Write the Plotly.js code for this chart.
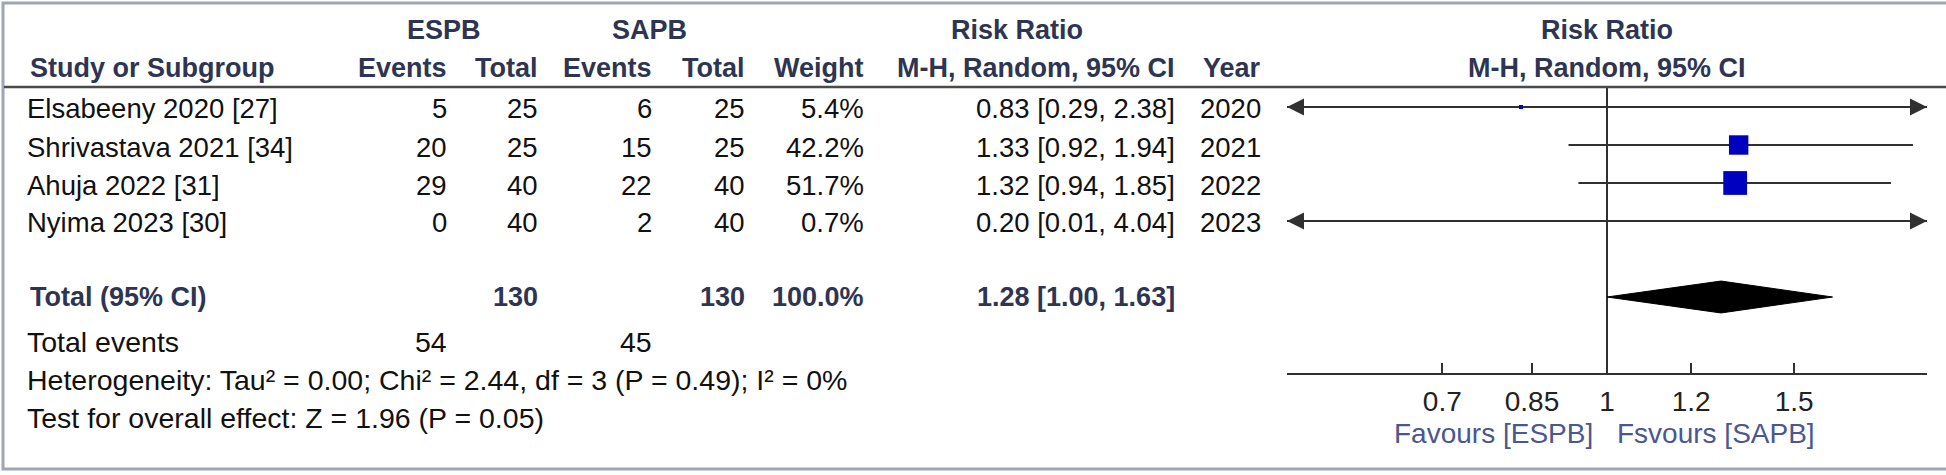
<!DOCTYPE html>
<html>
<head>
<meta charset="utf-8">
<script src="https://cdn.plot.ly/plotly-3.0.1.min.js"></script>
<style>html,body{margin:0;padding:0;background:#fff;overflow:hidden}#chart{width:1946px;height:475px}</style>
</head>
<body>
<div id="chart"></div>
<script>
// ---------- data ----------
const studies      = ["Elsabeeny 2020 [27]", "Shrivastava 2021 [34]", "Ahuja 2022 [31]", "Nyima 2023 [30]"];
const espbEvents   = [5, 20, 29, 0];
const espbTotal    = [25, 25, 40, 40];
const sapbEvents   = [6, 15, 22, 2];
const sapbTotal    = [25, 25, 40, 40];
const weights      = [5.4, 42.2, 51.7, 0.7];
const riskRatio    = [0.83, 1.33, 1.32, 0.20];
const ciLower      = [0.29, 0.92, 0.94, 0.01];
const ciUpper      = [2.38, 1.94, 1.85, 4.04];
const years        = [2020, 2021, 2022, 2023];

const totalLabel       = "Total (95% CI)";
const totalEspb        = 130;
const totalSapb        = 130;
const totalWeight      = 100.0;
const totalRR          = 1.28;
const totalLower       = 1.00;
const totalUpper       = 1.63;
const totalEventsEspb  = 54;
const totalEventsSapb  = 45;
const heterogeneityTxt = "Heterogeneity: Tau\u00b2 = 0.00; Chi\u00b2 = 2.44, df = 3 (P = 0.49); I\u00b2 = 0%";
const overallEffectTxt = "Test for overall effect: Z = 1.96 (P = 0.05)";

const groupLabels  = ["ESPB", "SAPB"];
const colHeaders   = ["Study or Subgroup", "Events", "Total", "Events", "Total", "Weight", "M-H, Random, 95% CI", "Year"];
const effectTitle  = "Risk Ratio";
const tickValues   = [0.7, 0.85, 1, 1.2, 1.5];
const tickLabels   = ["0.7", "0.85", "1", "1.2", "1.5"];
const axisRange    = [0.5, 2];
const nullValue    = 1;
const favoursLeft  = "Favours [ESPB]";
const favoursRight = "Fsvours [SAPB]";

// ---------- layout helpers (pixel -> paper) ----------
const W = 1946, H = 475;
const px = v => v / W;
const py = v => 1 - v / H;
const FONT = "Liberation Sans, Arial, sans-serif";
const FS = 27.5;
const FS_FOOT = 28.5;
const HEAD_COL = "#2d3552";
const TXT_COL = "#111111";
const FAV_COL = "#4a5790";

// row geometry
const ROW0 = 107, ROWH = 38;
const rowY = i => ROW0 + ROWH * i;
const TOTAL_ROW = 5;
const AXIS_Y = 373, HEADER_LINE_Y = 87;
const yTop = (HEADER_LINE_Y - ROW0) / ROWH;
const yBot = (AXIS_Y - ROW0) / ROWH;

// column anchors (px)
const C = { name: 27, e1: 447, t1: 538, e2: 652, t2: 745, w: 864, ci: 1175, yr: 1261 };

const ann = [];
function txt(text, x, y, anchor, opts) {
  opts = opts || {};
  ann.push({
    xref: "paper", yref: "paper", x: px(x), y: py(y), text: text,
    xanchor: anchor, yanchor: "middle", showarrow: false,
    borderpad: 0, borderwidth: 0,
    font: { family: FONT, size: opts.size || FS, color: opts.color || TXT_COL, weight: opts.bold ? "bold" : "normal" }
  });
}
const b = s => "<b>" + s + "</b>";
const HB = { color: HEAD_COL, size: 27 };

// header row 1
txt(b(groupLabels[0]), (C.e1 - 98 + C.t1) / 2, 30, "center", HB);
txt(b(groupLabels[1]), (C.e2 - 98 + C.t2) / 2, 30, "center", HB);
txt(b(effectTitle), 1017, 30, "center", HB);
txt(b(effectTitle), 1607, 30, "center", HB);
// header row 2
txt(b(colHeaders[0]), C.name + 3, 68, "left", HB);
txt(b(colHeaders[1]), C.e1, 68, "right", HB);
txt(b(colHeaders[2]), C.t1, 68, "right", HB);
txt(b(colHeaders[3]), C.e2, 68, "right", HB);
txt(b(colHeaders[4]), C.t2, 68, "right", HB);
txt(b(colHeaders[5]), C.w, 68, "right", HB);
txt(b(colHeaders[6]), C.ci, 68, "right", HB);
txt(b(colHeaders[7]), C.yr, 68, "right", HB);
txt(b(colHeaders[6]), 1607, 68, "center", HB);

// study rows
studies.forEach((s, i) => {
  const y = rowY(i) + 2;
  txt(s, C.name, y, "left");
  txt(String(espbEvents[i]), C.e1, y, "right");
  txt(String(espbTotal[i]), C.t1, y, "right");
  txt(String(sapbEvents[i]), C.e2, y, "right");
  txt(String(sapbTotal[i]), C.t2, y, "right");
  txt(weights[i].toFixed(1) + "%", C.w, y, "right");
  txt(riskRatio[i].toFixed(2) + " [" + ciLower[i].toFixed(2) + ", " + ciUpper[i].toFixed(2) + "]", C.ci, y, "right");
  txt(String(years[i]), C.yr, y, "right");
});

// total row
const yT = rowY(TOTAL_ROW);
txt(b(totalLabel), C.name + 3, yT, "left", HB);
txt(b(String(totalEspb)), C.t1, yT, "right", HB);
txt(b(String(totalSapb)), C.t2, yT, "right", HB);
txt(b(totalWeight.toFixed(1) + "%"), C.w, yT, "right", HB);
txt(b(totalRR.toFixed(2) + " [" + totalLower.toFixed(2) + ", " + totalUpper.toFixed(2) + "]"), C.ci, yT, "right", HB);
txt("Total events", C.name, 342, "left", { size: FS_FOOT });
txt(String(totalEventsEspb), C.e1, 342, "right", { size: FS_FOOT });
txt(String(totalEventsSapb), C.e2, 342, "right", { size: FS_FOOT });
txt(heterogeneityTxt, C.name, 380, "left", { size: FS_FOOT });
txt(overallEffectTxt, C.name, 418, "left", { size: FS_FOOT });

// favours labels
txt(favoursLeft, 1593, 433, "right", { color: FAV_COL, size: 28 });
txt(favoursRight, 1617, 433, "left", { color: FAV_COL, size: 28 });

// ---------- traces ----------
const lo = axisRange[0], hi = axisRange[1];
const traces = [];
const LINE_COL = "#303030";

// null line
traces.push({ x: [nullValue, nullValue], y: [yTop, yBot], mode: "lines", line: { color: LINE_COL, width: 2 }, hoverinfo: "skip", cliponaxis: false });

// CI lines + arrows
studies.forEach((s, i) => {
  const a = Math.max(ciLower[i], lo), z = Math.min(ciUpper[i], hi);
  traces.push({ x: [a, z], y: [i, i], mode: "lines", line: { color: LINE_COL, width: 2.2 }, hoverinfo: "skip" });
  const ax = [], ay = [], sy = [];
  if (ciLower[i] < lo) { ax.push(lo); ay.push(i); sy.push("arrow-left"); }
  if (ciUpper[i] > hi) { ax.push(hi); ay.push(i); sy.push("arrow-right"); }
  if (ax.length) traces.push({ x: ax, y: ay, mode: "markers", marker: { symbol: sy, size: 17, opacity: 1, color: LINE_COL, line: { width: 0 } }, cliponaxis: false, hoverinfo: "skip" });
});

// weight squares (only those inside the axis range)
const sqX = [], sqY = [], sqS = [];
riskRatio.forEach((r, i) => {
  if (r >= lo && r <= hi) { sqX.push(r); sqY.push(i); sqS.push(Math.max(4, weights[i] * 0.46)); }
});
traces.push({ x: sqX, y: sqY, mode: "markers", marker: { symbol: "square", size: sqS, opacity: 1, color: "#0000c0", line: { width: 0 } }, hoverinfo: "skip" });

// pooled diamond
const DH = 0.42;
traces.push({
  x: [totalLower, totalRR, totalUpper, totalRR, totalLower],
  y: [TOTAL_ROW, TOTAL_ROW - DH, TOTAL_ROW, TOTAL_ROW + DH, TOTAL_ROW],
  mode: "lines", fill: "toself", fillcolor: "#000000", line: { color: "#000000", width: 1 }, hoverinfo: "skip"
});

const layout = {
  width: W, height: H,
  margin: { l: 0, r: 0, t: 0, b: 0, pad: 0 },
  paper_bgcolor: "#ffffff", plot_bgcolor: "rgba(0,0,0,0)",
  showlegend: false,
  font: { family: FONT, size: FS, color: TXT_COL },
  xaxis: {
    type: "log", range: [Math.log10(lo), Math.log10(hi)], autorange: false,
    domain: [px(1287), px(1927)],
    showline: true, linecolor: LINE_COL, linewidth: 2,
    ticks: "inside", ticklen: 10, tickwidth: 2, tickcolor: LINE_COL,
    tickvals: tickValues, ticktext: tickLabels,
    tickfont: { family: FONT, size: 28, color: "#222" },
    ticklabelstandoff: 2,
    showgrid: false, zeroline: false, fixedrange: true
  },
  yaxis: {
    range: [yBot, yTop], autorange: false,
    domain: [py(AXIS_Y), py(HEADER_LINE_Y)],
    visible: false, showgrid: false, zeroline: false, fixedrange: true
  },
  shapes: [
    // outer frame
    { type: "rect", xref: "paper", yref: "paper", x0: px(3), x1: px(1960), y0: py(469), y1: py(3), line: { color: "#9ea7b6", width: 3 }, fillcolor: "rgba(0,0,0,0)" },
    // header rule
    { type: "line", xref: "paper", yref: "paper", x0: px(4), x1: 1, y0: py(HEADER_LINE_Y), y1: py(HEADER_LINE_Y), line: { color: "#4a4a4a", width: 2.5 } }
  ],
  annotations: ann
};

Plotly.newPlot("chart", traces, layout, { staticPlot: true, displayModeBar: false });
</script>
</body>
</html>
